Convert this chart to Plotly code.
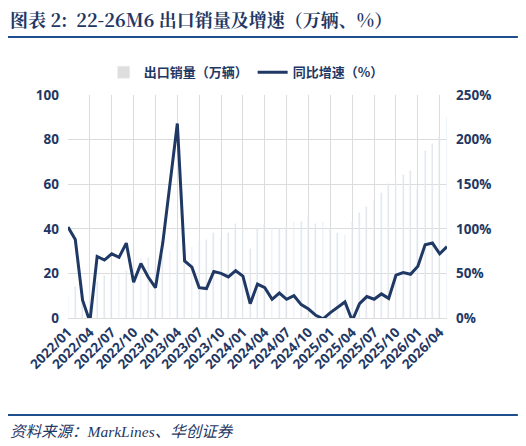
import plotly.graph_objects as go

months = [f"{y}/{m:02d}" for y in range(2022, 2027) for m in range(1, 13)][:53]
volume = [10,14,12,13,16,19,18,20,21,22,27,27,
          23,28,30,35,31,32,34,35,38,36,38,42,
          40,31,40,42,40,40,41,43,43,46,42,43,
          40,38,37,43,47,50,53,56,60,62,64,
          66,58,75,78,81,90]
growth = [102,88,20,-4,69,65,72,68,84,40,61,46,
          34,84,151,218,64,57,34,33,52,50,46,53,
          47,16,38,34,21,28,21,25,15,10,3,-1,
          6,12,18,-3,16,24,21,27,22,48,51,49,
          58,82,84,72,80]
tick_idx = list(range(0, 53, 3))
tick_text = [months[i] for i in tick_idx]

navy = "#1f3864"
x = list(range(len(months)))
fig = go.Figure()
fig.add_trace(go.Bar(x=x, y=volume, name="出口销量（万辆）", marker_color="#dedede",
                     width=0.1, yaxis="y"))
fig.add_trace(go.Scatter(x=x, y=growth, name="同比增速（%）", mode="lines",
                         line=dict(color=navy, width=3), yaxis="y2"))
font = "Noto Sans CJK SC"
tf = dict(size=13.5, color=navy, family="Open Sans", weight="bold")
fig.update_layout(
    width=518, height=438, paper_bgcolor="white", plot_bgcolor="white",
    margin=dict(l=60, r=79, t=87, b=128),
    font=dict(family=font, color=navy, size=12),
    showlegend=True,
    legend=dict(orientation="h", x=0.47, xanchor="center", y=1.035, yanchor="bottom",
                font=dict(size=13, color=navy, family=font, weight="bold")),
    xaxis=dict(range=[0, 52], tickvals=tick_idx, ticktext=tick_text, tickangle=-45,
               showgrid=True, gridcolor="#dcdcdc", gridwidth=1, zeroline=False,
               tickfont=tf, showline=True, linecolor="#dcdcdc", ticks="", automargin=False),
    yaxis=dict(range=[0, 100], dtick=20, showgrid=True, gridcolor="#dcdcdc",
               zeroline=False, tickfont=tf, automargin=False, ticklabelstandoff=8),
    yaxis2=dict(range=[0, 250], dtick=50, overlaying="y", side="right", showgrid=False,
                ticksuffix="%", zeroline=False, tickfont=tf, automargin=False,
                ticklabelstandoff=8),
    bargap=0,
)
fig.add_annotation(text="<b>图表 2:  22-26M6 出口销量及增速（万辆、%）</b>", xref="paper", yref="paper",
                   x=-0.158, y=(318-19)/223, showarrow=False,
                   xanchor="left", yanchor="middle",
                   font=dict(size=18, color=navy, family="Noto Serif CJK SC, Noto Sans CJK SC"))
fig.add_annotation(text="<i>资料来源：MarkLines、华创证券</i>", xref="paper", yref="paper",
                   x=-0.158, y=-(431-318)/223, showarrow=False, xanchor="left", yanchor="middle",
                   font=dict(size=15.5, color=navy, family="Liberation Serif, Noto Sans CJK SC"))
for yy in ((318-37)/223, (318-415)/223):
    fig.add_shape(type="line", xref="paper", yref="paper", x0=-0.166, x1=1.187, y0=yy, y1=yy,
                  line=dict(color="#1f4e8c", width=2))
fig.write_html("out.html")
